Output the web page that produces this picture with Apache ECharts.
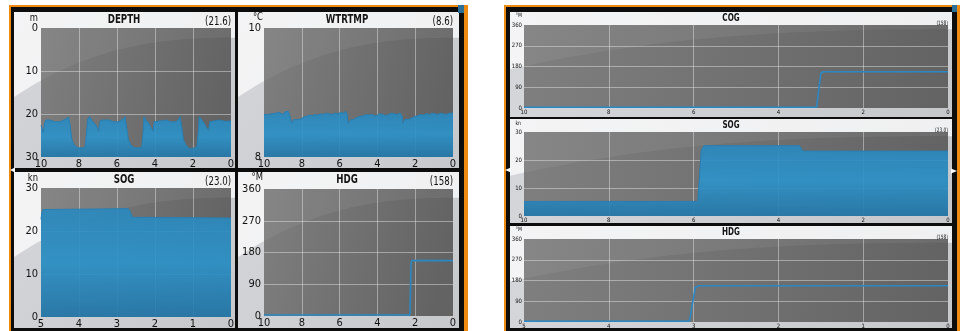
<!DOCTYPE html>
<html>
<head>
<meta charset="utf-8">
<script src="https://cdn.jsdelivr.net/npm/echarts@6/dist/echarts.min.js"></script>
<style>
  html, body { margin: 0; padding: 0; background: #ffffff; }
  #chart { width: 960px; height: 331px; }
</style>
</head>
<body>
<div id="chart"></div>
<script>
// Two plotter screens: 2x2 grid on the left, three stacked strips on the right.

const FONT = "'DejaVu Sans Condensed', 'Liberation Sans Narrow', sans-serif";

// ── Data: [minutes ago, value] ──────────────────────────────────────────
const depthData = [
  [10, 22.6], [9.93, 23.0], [9.88, 24.3], [9.82, 22.3], [9.75, 21.4], [9.5, 21.4], [9.3, 21.8],
  [9.0, 21.8], [8.75, 21.3], [8.55, 20.7], [8.47, 22.5], [8.38, 25.8], [8.25, 27.2], [8.1, 27.8],
  [7.85, 27.9], [7.68, 27.7], [7.6, 24.0], [7.55, 21.2], [7.45, 20.6], [7.3, 21.6], [7.15, 22.3],
  [7.03, 23.2], [6.97, 24.2], [6.92, 22.0], [6.85, 21.4], [6.4, 21.4], [6.2, 21.8], [5.9, 21.8],
  [5.7, 21.2], [5.58, 20.6], [5.5, 22.8], [5.4, 26.0], [5.25, 27.3], [5.1, 27.8], [4.85, 27.9],
  [4.7, 27.7], [4.63, 24.5], [4.58, 20.6], [4.45, 21.5], [4.3, 22.3], [4.18, 23.4], [4.1, 24.0],
  [4.05, 21.8], [3.98, 21.4], [3.4, 21.4], [3.2, 21.8], [2.9, 21.8], [2.75, 21.2], [2.68, 20.6],
  [2.6, 22.8], [2.5, 26.0], [2.35, 27.4], [2.16, 28.1], [1.95, 27.9], [1.8, 27.7], [1.72, 24.0],
  [1.67, 20.6], [1.55, 21.3], [1.4, 22.2], [1.28, 23.2], [1.18, 23.8], [1.12, 21.8], [1.05, 21.4],
  [0.6, 21.4], [0.3, 21.7], [0, 21.6]
];

const wtrtmpData = [
  [10, 8.66], [9.9, 8.68], [9.8, 8.66], [9.7, 8.69], [9.6, 8.67], [9.5, 8.66], [9.4, 8.68],
  [9.3, 8.67], [9.2, 8.69], [9.1, 8.68], [9.0, 8.66], [8.9, 8.70], [8.8, 8.69], [8.72, 8.71],
  [8.65, 8.66], [8.58, 8.64], [8.52, 8.52], [8.48, 8.49], [8.42, 8.58], [8.35, 8.60], [8.2, 8.58],
  [8.05, 8.59], [7.9, 8.62], [7.75, 8.63], [7.6, 8.65], [7.45, 8.64], [7.3, 8.66], [7.15, 8.65],
  [7.0, 8.67], [6.85, 8.66], [6.7, 8.68], [6.55, 8.67], [6.4, 8.66], [6.25, 8.68], [6.1, 8.67],
  [5.95, 8.69], [5.8, 8.68], [5.68, 8.71], [5.6, 8.66], [5.55, 8.52], [5.5, 8.50], [5.45, 8.57],
  [5.35, 8.60], [5.2, 8.59], [5.05, 8.62], [4.9, 8.63], [4.75, 8.64], [4.6, 8.66], [4.45, 8.65],
  [4.3, 8.66], [4.15, 8.64], [4.0, 8.65], [3.85, 8.67], [3.7, 8.66], [3.55, 8.64], [3.4, 8.66],
  [3.25, 8.68], [3.1, 8.67], [2.95, 8.66], [2.8, 8.68], [2.7, 8.64], [2.65, 8.52], [2.61, 8.50],
  [2.55, 8.58], [2.45, 8.60], [2.3, 8.59], [2.15, 8.61], [2.0, 8.63], [1.85, 8.64], [1.7, 8.66],
  [1.55, 8.65], [1.4, 8.67], [1.25, 8.66], [1.1, 8.68], [0.95, 8.67], [0.8, 8.66], [0.65, 8.68],
  [0.5, 8.67], [0.35, 8.66], [0.2, 8.68], [0.1, 8.67], [0, 8.68]
];

const sogLeftData = [
  [5, 22.7], [4.98, 24.2], [4.95, 25.0], [4.9, 25.2], [2.7, 25.2], [2.64, 24.3], [2.6, 23.2],
  [2.55, 23.0], [0, 23.0]
];

const hdgLeftData = [[10, 3], [2.28, 3], [2.22, 150], [2.18, 157], [0, 157]];

const cogRightData = [[10, 3], [3.1, 3], [3.0, 150], [2.95, 157], [0, 157]];

const sogRightData = [
  [10, 5.2], [5.9, 5.2], [5.82, 23.5], [5.76, 25.1], [3.5, 25.1], [3.43, 23.3], [3.38, 23.2], [0, 23.2]
];

const hdgRightData = [[5, 3], [3.05, 3], [2.98, 150], [2.94, 157], [0, 157]];

// ── Layout: panel box, plot box, text positions ─────────────────────────
const charts = [
  { title: 'DEPTH', value: '(21.6)', unit: 'm', data: depthData, xMax: 10, yMin: 0, yMax: 30, yStep: 10,
    inverse: true, area: true, big: true,
    panel: [14, 12, 221, 156], plot: [41, 28, 190, 129], titleXY: [124, 20], unitXY: [38, 18] },
  { title: 'WTRTMP', value: '(8.6)', unit: '°C', data: wtrtmpData, xMax: 10, yMin: 8, yMax: 10, yStep: 2,
    area: true, big: true,
    panel: [238, 12, 221, 156], plot: [264, 28, 189, 129], titleXY: [347, 20], unitXY: [263, 17] },
  { title: 'SOG', value: '(23.0)', unit: 'kn', data: sogLeftData, xMax: 5, yMin: 0, yMax: 30, yStep: 10,
    area: true, big: true,
    panel: [14, 172, 221, 156], plot: [41, 188, 190, 129], titleXY: [124, 180], unitXY: [38, 178] },
  { title: 'HDG', value: '(158)', unit: '°M', data: hdgLeftData, xMax: 10, yMin: 0, yMax: 360, yStep: 90,
    area: false, big: true,
    panel: [238, 172, 221, 156], plot: [264, 189, 189, 127], titleXY: [347, 180], unitXY: [263, 177] },
  { title: 'COG', value: '(158)', unit: '°M', data: cogRightData, xMax: 10, yMin: 0, yMax: 360, yStep: 90,
    area: false, big: false,
    panel: [510, 12, 442, 105], plot: [524, 25, 424, 83], titleXY: [731, 18], unitXY: [522, 15] },
  { title: 'SOG', value: '(23.0)', unit: 'kn', data: sogRightData, xMax: 10, yMin: 0, yMax: 30, yStep: 10,
    area: true, big: false,
    panel: [510, 119, 442, 104], plot: [524, 132, 424, 84], titleXY: [731, 125], unitXY: [521, 123] },
  { title: 'HDG', value: '(158)', unit: '°M', data: hdgRightData, xMax: 5, yMin: 0, yMax: 360, yStep: 90,
    area: false, big: false,
    panel: [510, 226, 442, 102], plot: [524, 239, 424, 83], titleXY: [731, 232], unitXY: [522, 229] }
];

// curved glare line across each panel; returns polygon of the part above the curve, clipped to a box
function glare(panel, x0, y0, x1, y1) {
  const [px, py, pw, ph] = panel;
  const pts = [];
  const n = 40;
  for (let i = 0; i <= n; i++) {
    const x = x0 + (x1 - x0) * i / n;
    const u = Math.min(1, Math.max(0, (x - px) / pw));
    let y = py + ph * (0.165 + 0.38 * Math.pow(1 - u, 2.5));
    y = Math.min(y1, Math.max(y0, y));
    pts.push([x, y]);
  }
  pts.push([x1, y0], [x0, y0]);
  return pts;
}

const grid = [], xAxis = [], yAxis = [], series = [];
const graphics = [];

// screen frames
graphics.push(
  { type: 'rect', z: -20, shape: { x: 9, y: 5, width: 459, height: 330 }, style: { fill: '#ee8a10' } },
  { type: 'rect', z: -19, shape: { x: 11, y: 7, width: 453, height: 330 }, style: { fill: '#0d0d0d' } },
  { type: 'rect', z: -20, shape: { x: 504, y: 5, width: 460, height: 330 }, style: { fill: '#ee8a10' } },
  { type: 'rect', z: -19, shape: { x: 506, y: 7, width: 451, height: 330 }, style: { fill: '#0d0d0d' } },
  { type: 'rect', z: 20, shape: { x: 458, y: 5, width: 6, height: 8 }, style: { fill: '#2b6f96' } },
  { type: 'rect', z: 20, shape: { x: 952, y: 5, width: 5, height: 7 }, style: { fill: '#2b6f96' } },
  { type: 'polygon', z: 20, shape: { points: [[10, 170], [15, 167.5], [15, 172.5]] }, style: { fill: '#ffffff' } },
  { type: 'polygon', z: 20, shape: { points: [[505, 170], [511, 167.5], [511, 172.5]] }, style: { fill: '#ffffff' } },
  { type: 'polygon', z: 20, shape: { points: [[957, 171], [951, 168.5], [951, 173.5]] }, style: { fill: '#ffffff' } }
);

charts.forEach((c, i) => {
  const [px, py, pw, ph] = c.panel;
  const [gx, gy, gw, gh] = c.plot;
  const labelSize = c.big ? 11 : 6;

  // panel + plot backgrounds
  graphics.push(
    { type: 'rect', z: -18, shape: { x: px, y: py, width: pw, height: ph },
      style: { fill: new echarts.graphic.LinearGradient(0, 0, 1, 1, [
        { offset: 0, color: '#d4d6d9' }, { offset: 1, color: '#c6c8cb' }]) } },
    { type: 'polygon', z: -17, shape: { points: glare(c.panel, px, py, px + pw, py + ph) },
      style: { fill: 'rgba(255,255,255,0.72)' } },
    { type: 'rect', z: -16, shape: { x: gx, y: gy, width: gw, height: gh },
      style: { fill: new echarts.graphic.LinearGradient(0, 0, 1, 0.35, [
        { offset: 0, color: '#7f7f7f' }, { offset: 1, color: '#636363' }]) } },
    { type: 'polygon', z: -15, shape: { points: glare(c.panel, gx, gy, gx + gw, gy + gh) },
      style: { fill: 'rgba(255,255,255,0.06)' } },
    // unit, title and current value
    { type: 'text', z: 10, x: c.unitXY[0], y: c.unitXY[1], scaleX: 0.85,
      style: { text: c.unit, font: `${c.big ? 11 : 6}px ${FONT}`, fill: '#111', align: 'right', verticalAlign: 'middle' } },
    { type: 'text', z: 10, x: c.titleXY[0], y: c.titleXY[1], scaleX: c.big ? 0.74 : 0.8,
      style: { text: c.title, font: `bold ${c.big ? 13 : 10}px ${FONT}`, fill: '#151515', align: 'center', verticalAlign: 'middle' } },
    { type: 'text', z: 10, x: gx + gw, y: c.titleXY[1] + (c.big ? 2 : 5), scaleX: 0.8,
      style: { text: c.value, font: `${c.big ? 12 : 6}px ${FONT}`, fill: '#111', align: 'right', verticalAlign: 'middle' } }
  );

  grid.push({ left: gx, top: gy, width: gw, height: gh, outerBoundsMode: 'none' });

  const split = { show: true, showMinLine: false, showMaxLine: false,
    lineStyle: { color: 'rgba(235,235,235,0.45)', width: 1 } };

  xAxis.push({
    type: 'value', gridIndex: i, min: 0, max: c.xMax, interval: c.xMax / 5, inverse: true,
    axisLine: { show: false }, axisTick: { show: false },
    axisLabel: { fontFamily: FONT, fontSize: labelSize, color: '#111', margin: c.big ? 2 : 1 },
    splitLine: split
  });
  yAxis.push({
    type: 'value', gridIndex: i, min: c.yMin, max: c.yMax, interval: c.yStep, inverse: !!c.inverse,
    axisLine: { show: false }, axisTick: { show: false },
    axisLabel: { fontFamily: FONT, fontSize: labelSize, color: '#111', margin: c.big ? 3 : 2 },
    splitLine: split
  });

  const s = {
    type: 'line', xAxisIndex: i, yAxisIndex: i, data: c.data,
    showSymbol: false, symbol: 'none', animation: false,
    lineStyle: { color: c.area ? '#2a7fb2' : '#2a88c4', width: c.area ? 1 : 1.6 }
  };
  if (c.area) {
    s.areaStyle = {
      origin: c.inverse ? 'end' : 'start', opacity: 0.92,
      color: new echarts.graphic.LinearGradient(0, 0, 0, 1, [
        { offset: 0, color: '#2a88bd' }, { offset: 0.5, color: '#2d93c9' }, { offset: 1, color: '#2478aa' }])
    };
  }
  series.push(s);
});

// dividers inside the left screen
graphics.push(
  { type: 'rect', z: -14, shape: { x: 11, y: 168, width: 453, height: 4 }, style: { fill: '#0d0d0d' } },
  { type: 'rect', z: -14, shape: { x: 235, y: 7, width: 3, height: 330 }, style: { fill: '#0d0d0d' } }
);

const chart = echarts.init(document.getElementById('chart'), null, { renderer: 'canvas' });
chart.setOption({
  animation: false,
  backgroundColor: '#ffffff',
  grid, xAxis, yAxis, series,
  graphic: { elements: graphics }
});
</script>
</body>
</html>
